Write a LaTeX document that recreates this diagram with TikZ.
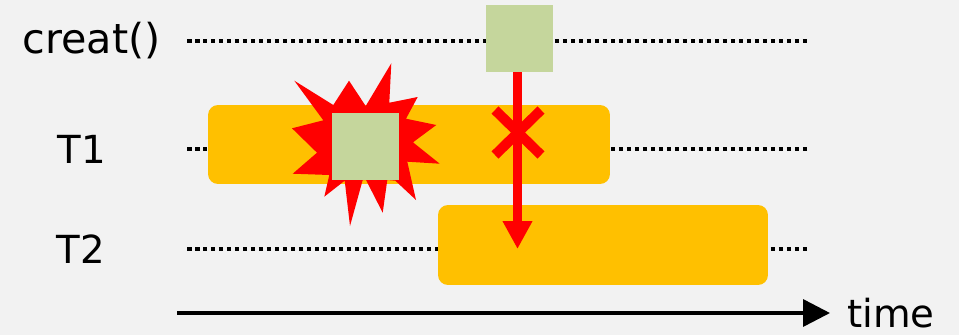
\documentclass[tikz,border=0pt]{standalone}
\usepackage{fontspec}
\setmainfont{DejaVu Sans}
\usetikzlibrary{arrows.meta,positioning}
\definecolor{sceneGray}{RGB}{242, 242, 242}
\definecolor{barOrange}{RGB}{255, 192, 0}
\definecolor{boxGreen}{RGB}{197, 214, 156}
\definecolor{hitRed}{RGB}{255, 0, 0}

\begin{document}
\begin{tikzpicture}[
  x=0.02cm,
  y=-0.02cm,
  label/.style={
    inner sep=0pt,
    font=\fontsize{22}{22}\selectfont
  },
  thread/.style={
    fill=barOrange,
    rounded corners=0.2cm,
    inner sep=0pt
  },
  inode/.style={
    fill=boxGreen,
    inner sep=0pt,
    minimum size=1.34cm
  },
  track/.style={
    line width=0.08cm,
    dash pattern=on 0.09cm off 0.07cm
  },
  arrow/.style={-{Triangle[length=0.56cm,width=0.56cm]},line width=0.19cm,hitRed},
  cross/.style={line width=0.2cm,hitRed},
  timeline/.style={-{Triangle[length=0.54cm,width=0.54cm]},line width=0.07cm}
]
  \fill[sceneGray] (0,0) rectangle (959,335);

  \node[label,font=\fontsize{23.5}{23.5}\selectfont] (creatLabel) at (91.5,41) {creat()};
  \node[label] (t1Label) at (82,149) {T1};
  \node[label] (t2Label) at (81,249) {T2};

  % tracks
  \coordinate (creatStart) at (187,41);
  \coordinate (creatEnd) at (807,41);
  \coordinate (t1Start) at (187,149);
  \coordinate (t1End) at (807,149);
  \coordinate (t2Start) at (187,249);
  \coordinate (t2End) at (807,249);
  \draw[track] (creatStart) -- (creatEnd);
  \draw[track] (t1Start) -- (t1End);
  \draw[track] (t2Start) -- (t2End);

  \node[thread,minimum width=8.04cm,minimum height=1.58cm] (t1Bar) at (409,144.5) {};
  \node[thread,minimum width=6.6cm,minimum height=1.6cm] (t2Bar) at (603,245) {};

  % burst
  \fill[hitRed] (294.3,80.7) -- (333.3,105) -- (349,80.7) -- (365.7,106) -- (391.3,63.3)
    -- (389.3,102.7) -- (417.7,97) -- (406,118.7) -- (436.3,125) -- (413,142.3)
    -- (439.7,163.7) -- (407.3,161.7) -- (416,200) -- (395.3,180.7) -- (387.3,180)
    -- (382.7,212.7) -- (366,180) -- (362.7,180) -- (350,226) -- (344.7,180.7)
    -- (324.3,196.7) -- (329.3,175) -- (292.7,173.7) -- (317,152.7) -- (292,128.3)
    -- (323.3,120.3) -- cycle;

  \node[inode] (t1Inode) at (365.5,146.5) {};
  \node[inode] (creatInode) at (519.5,38.5) {};

  \coordinate (arrowEnd) at (517.5,249);
  \draw[arrow] (creatInode.south -| arrowEnd) -- (arrowEnd);

  \coordinate (crossA) at (495,110);
  \coordinate (crossB) at (541,155);
  \coordinate (crossC) at (541,110);
  \coordinate (crossD) at (495,155);
  \draw[cross] (crossA) -- (crossB);
  \draw[cross] (crossC) -- (crossD);

  \coordinate (timeStart) at (177,313);
  \coordinate (timeEnd) at (830,313);
  \draw[timeline] (timeStart) -- (timeEnd);
  \node[label,anchor=west] (timeLabel) at (847,313) {time};
\end{tikzpicture}
\end{document}
